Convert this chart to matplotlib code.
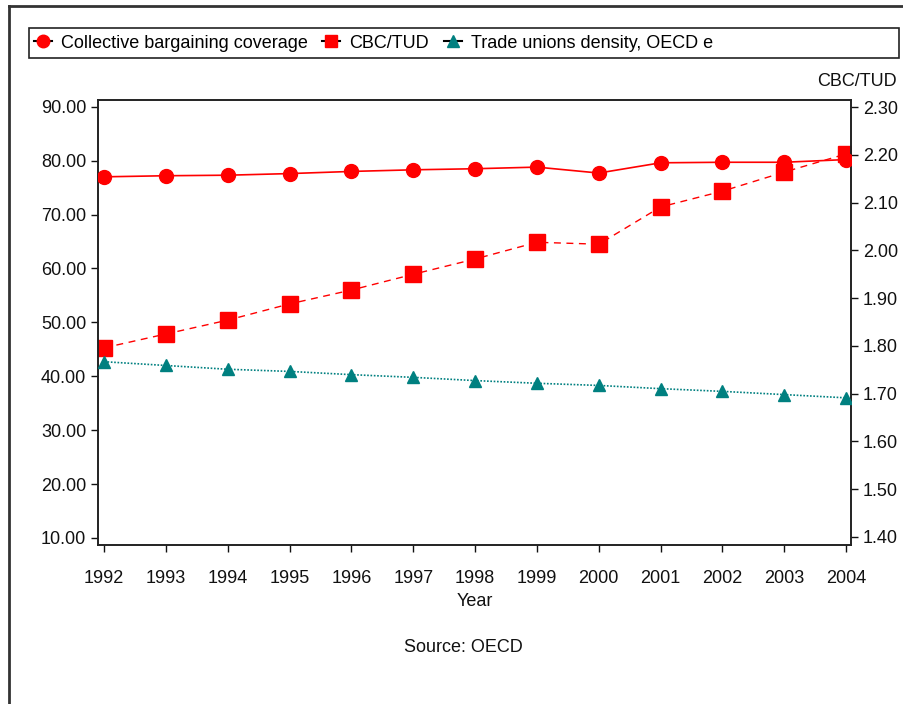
import numpy as np
import matplotlib
matplotlib.use('Agg')
import matplotlib.pyplot as plt
from matplotlib.lines import Line2D
from matplotlib.patches import Rectangle
from matplotlib.ticker import FormatStrFormatter

plt.rcParams['font.family'] = ['Liberation Sans', 'DejaVu Sans']

years = list(range(1992, 2005))
# collective bargaining coverage (left axis)
cbc = [77.0, 77.2, 77.3, 77.6, 78.0, 78.3, 78.5, 78.8, 77.7, 79.6, 79.7, 79.7, 80.2]
# trade union density (left axis)
tud = [42.7, 42.0, 41.3, 40.9, 40.3, 39.8, 39.2, 38.7, 38.3, 37.7, 37.2, 36.6, 36.0]
# ratio CBC/TUD (right axis)
ratio = [1.796, 1.825, 1.854, 1.888, 1.917, 1.950, 1.982, 2.017, 2.013, 2.091, 2.124, 2.164, 2.202]

left_ticks = np.arange(10, 91, 10)
right_ticks = np.arange(1.4, 2.31, 0.1)

red = '#ff0000'
teal = '#008080'
fs = 13

fig = plt.figure(figsize=(9.04, 7.04), dpi=100)
ax = fig.add_axes([98 / 904, 1 - 545 / 704, (851 - 98) / 904, (545 - 100) / 704])
ax2 = ax.twinx()

ax.plot(years, cbc, color=red, lw=1.2, marker='o', ms=10, zorder=3)
ax.plot(years, tud, color=teal, lw=1.2, ls=(0, (1, 1)), marker='^', ms=9, zorder=3)
ax2.plot(years, ratio, color=red, lw=1.0, ls=(0, (5, 4)), marker='s', ms=11)

ax.set_xlim(1991.9, 2004.08)
ax.set_ylim(8.7, 91.25)
ax2.set_ylim(1.383, 2.315)
ax.set_xticks(years)
ax.set_yticks(left_ticks)
ax2.set_yticks(right_ticks)
ax.yaxis.set_major_formatter(FormatStrFormatter('%.2f'))
ax2.yaxis.set_major_formatter(FormatStrFormatter('%.2f'))
for a in (ax, ax2):
    a.tick_params(labelsize=fs, length=5, width=1, colors='#111111', direction='out')
    for s in a.spines.values():
        s.set_color('#222222')
        s.set_linewidth(1.2)
ax.tick_params(axis='x', pad=13)
ax.set_xlabel('Year', fontsize=fs, labelpad=4, color='#111111')
ax.set_zorder(ax2.get_zorder() + 1)
ax.patch.set_visible(False)

fig.text(897 / 904, 1 - 82 / 704, 'CBC/TUD', ha='right', va='center', fontsize=fs, color='#111111')
fig.text(463 / 904, 1 - 648 / 704, 'Source: OECD', ha='center', va='center', fontsize=fs, color='#111111')

# outer frame (left and top edges visible)
fig.add_artist(Line2D([9 / 904, 9 / 904], [0, 1 - 6 / 704], color='#333333', lw=2))
fig.add_artist(Line2D([9 / 904, 1], [1 - 6 / 704, 1 - 6 / 704], color='#333333', lw=2))

# legend box
fig.add_artist(Rectangle((29 / 904, 1 - 58 / 704), (899 - 29) / 904, 30 / 704,
                         transform=fig.transFigure, fill=False, ec='#222222', lw=1.2))
handles = [
    Line2D([], [], color='black', lw=1.5, marker='o', ms=9, mfc=red, mec=red),
    Line2D([], [], color='black', lw=1.5, marker='s', ms=9, mfc=red, mec=red),
    Line2D([], [], color='black', lw=1.5, marker='^', ms=9, mfc=teal, mec=teal),
]
labels = ['Collective bargaining coverage', 'CBC/TUD', 'Trade unions density, OECD e']
fig.legend(handles, labels, loc='center left', bbox_to_anchor=(34 / 904, 1 - 43 / 704),
           ncol=3, frameon=False, fontsize=fs, handlelength=1.0, handletextpad=0.5,
           columnspacing=0.8, borderaxespad=0, borderpad=0)

fig.savefig('out.png', dpi=100)
